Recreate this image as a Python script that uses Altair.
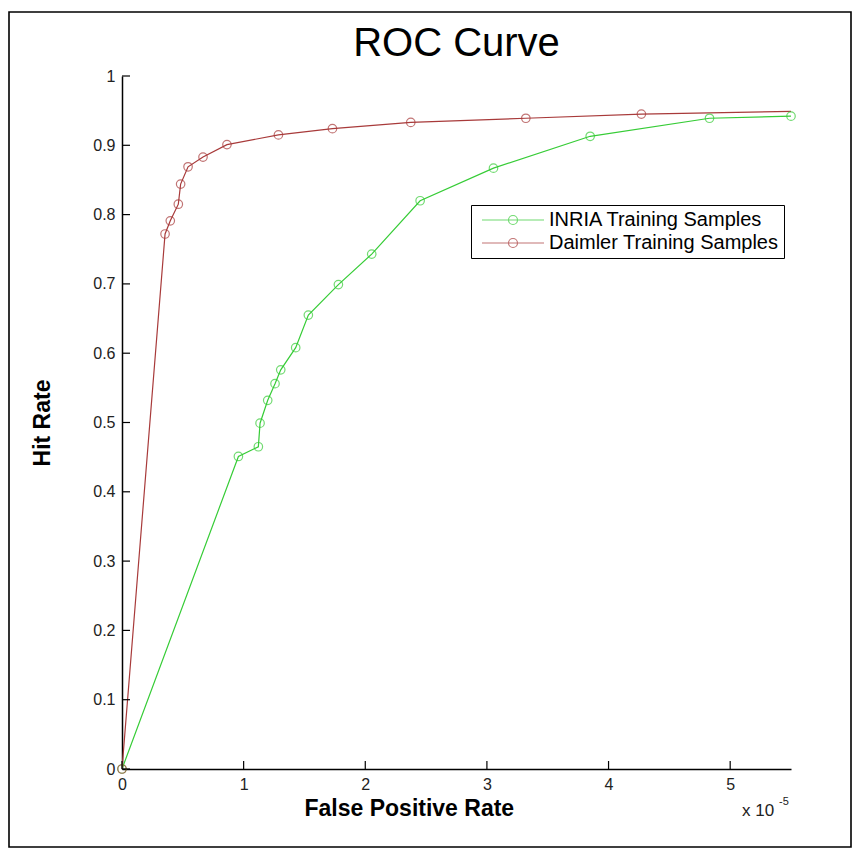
import altair as alt
import pandas as pd

# ---- data (x in units of 1e-5) ----
series_names = ["INRIA Training Samples", "Daimler Training Samples"]
series_colors = ["#36cc36", "#a83a3a"]

inria_x = [0, 0.957, 1.121, 1.135, 1.198, 1.258, 1.305, 1.428, 1.532, 1.779,
           2.053, 2.451, 3.054, 3.849, 4.83, 5.50]
inria_y = [0, 0.451, 0.465, 0.499, 0.532, 0.556, 0.576, 0.608, 0.655, 0.699,
           0.743, 0.820, 0.867, 0.913, 0.939, 0.942]

daimler_x = [0, 0.354, 0.397, 0.463, 0.482, 0.543, 0.666, 0.863, 1.286, 1.73,
             2.374, 3.32, 4.27, 5.8]
daimler_y = [0, 0.772, 0.791, 0.815, 0.844, 0.869, 0.883, 0.901, 0.915, 0.924,
             0.933, 0.939, 0.945, 0.950]

x_ticks = [0, 1, 2, 3, 4, 5]
y_ticks = [0, 0.1, 0.2, 0.3, 0.4, 0.5, 0.6, 0.7, 0.8, 0.9, 1]

X_DOMAIN = [0, 5.5]
Y_DOMAIN = [0, 1]

W, H = 669, 693
FONT = "Liberation Sans"

rows = []
for i, (x, y) in enumerate(zip(inria_x, inria_y)):
    rows.append({"series": series_names[0], "x": x, "y": y, "idx": i})
for i, (x, y) in enumerate(zip(daimler_x, daimler_y)):
    rows.append({"series": series_names[1], "x": x, "y": y, "idx": i})
df = pd.DataFrame(rows)

xscale = alt.Scale(domain=X_DOMAIN, nice=False, zero=False)
yscale = alt.Scale(domain=Y_DOMAIN, nice=False, zero=False)

legend_path = ("M-6.2,0L6.2,0"
               "M-0.9,0A0.9,0.9 0 1,0 0.9,0A0.9,0.9 0 1,0 -0.9,0")

color = alt.Color(
    "series:N",
    scale=alt.Scale(domain=series_names, range=series_colors),
    legend=alt.Legend(
        title=None, orient="none", legendX=349, legendY=129,
        symbolType=legend_path, symbolSize=100, symbolStrokeWidth=1.2,
        symbolOffset=27, labelOffset=26,
        labelFont=FONT, labelFontSize=20, labelColor="black",
        rowPadding=3, padding=5,
        strokeColor="black", fillColor="white",
        labelLimit=400,
    ),
)

x_axis = alt.Axis(
    values=x_ticks, format="d", title="False Positive Rate",
    titleFont=FONT, titleFontSize=23, titleFontWeight="bold", titleColor="black",
    titleAlign="left", titleBaseline="alphabetic", titleX=182, titleY=46,
    labelFont=FONT, labelFontSize=16, labelColor="#222", labelPadding=7,
    labelFlush=False, labelOverlap=False,
    ticks=False, tickSize=0, grid=False,
    domainColor="black", domainWidth=1.5,
)
y_axis = alt.Axis(
    values=y_ticks, format="~g", title="Hit Rate",
    titleFont=FONT, titleFontSize=23, titleFontWeight="bold", titleColor="black",
    titleAlign="center", titleBaseline="middle", titleX=-80, titleY=H / 2,
    labelFont=FONT, labelFontSize=16, labelColor="#222", labelPadding=7,
    labelFlush=False, labelOverlap=False,
    ticks=False, tickSize=0, grid=False,
    domainColor="black", domainWidth=1.5,
)


def X(field):
    return alt.X(field, type="quantitative", scale=xscale, axis=x_axis)


def Y(field):
    return alt.Y(field, type="quantitative", scale=yscale, axis=y_axis)


base = alt.Chart(df)

lines = base.mark_line(clip=True, strokeWidth=1.2).encode(
    x=X("x"), y=Y("y"), color=color, order="idx:Q",
)

points = base.transform_filter(f"datum.x <= {X_DOMAIN[1]}").mark_point(
    shape="circle", filled=False, size=72, strokeWidth=1.2
).encode(x=X("x"), y=Y("y"), color=color)

xt = alt.Chart(pd.DataFrame({"x": x_ticks})).mark_rule(
    color="black", strokeWidth=1.2
).encode(x=X("x"), y=alt.value(H), y2=alt.value(H - 8))

yt = alt.Chart(pd.DataFrame({"y": y_ticks})).mark_rule(
    color="black", strokeWidth=1.2
).encode(y=Y("y"), x=alt.value(0), x2=alt.value(8))

one = alt.Data(values=[{"k": 1}])
frame = alt.Chart(one).mark_rect(
    fillOpacity=0, stroke="black", strokeWidth=1.6
).encode(
    x=alt.value(-113), x2=alt.value(729), y=alt.value(-64), y2=alt.value(771)
)
title = alt.Chart(one).mark_text(
    text="ROC Curve", align="center", baseline="alphabetic", font=FONT,
    fontSize=40, color="black"
).encode(x=alt.value(W / 2), y=alt.value(-20))
mult = alt.Chart(one).mark_text(
    text="x 10", align="left", baseline="middle", font=FONT, fontSize=17, color="#222"
).encode(x=alt.value(620), y=alt.value(735))
mult_exp = alt.Chart(one).mark_text(
    text="-5", align="left", baseline="middle", font=FONT, fontSize=11, color="#222"
).encode(x=alt.value(657), y=alt.value(726))

chart = alt.layer(lines, points, xt, yt, frame, title, mult, mult_exp).properties(
    width=W, height=H,
    padding={"left": 114, "top": 68, "right": 62, "bottom": 80},
    autosize=alt.AutoSizeParams(type="none"),
    background="white",
).configure_view(stroke=None)

chart.save("out.html", embed_options={"renderer": "svg", "actions": False})
